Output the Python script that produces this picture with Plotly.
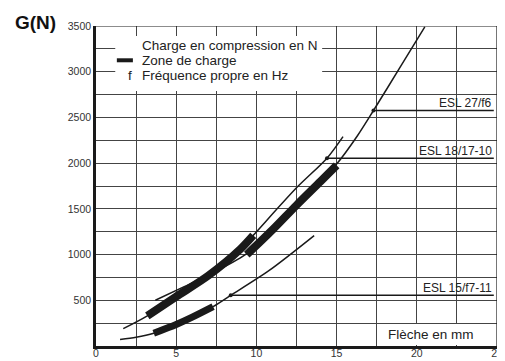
import plotly.graph_objects as go

# ---- data ----
esl15_x = [1.5, 2.5, 3.6, 5.0, 6.0, 7.3, 8.4, 10.8, 13.6]
esl15_y = [70, 95, 140, 235, 315, 430, 554, 826, 1207]
esl15_zone_x = [3.6, 5.0, 6.0, 7.3]
esl15_zone_y = [140, 235, 315, 430]
esl15_dot = (8.4, 554)

esl18_x = [1.7, 3.2, 5.0, 7.0, 9.0, 9.8, 12.5, 14.4, 15.4]
esl18_y = [190, 330, 540, 770, 1060, 1210, 1730, 2054, 2290]
esl18_zone_x = [3.2, 5.0, 7.0, 9.0, 9.8]
esl18_zone_y = [330, 540, 770, 1060, 1210]
esl18_dot = (14.4, 2054)

esl27_x = [3.7, 5.5, 7.5, 9.4, 11.0, 12.5, 14.0, 15.0, 16.3, 17.3, 19.0, 20.5]
esl27_y = [500, 650, 820, 1010, 1280, 1550, 1810, 1990, 2300, 2576, 3060, 3490]
esl27_zone_x = [9.4, 11.0, 12.5, 14.0, 15.0]
esl27_zone_y = [1000, 1270, 1540, 1800, 1975]
esl27_dot = (17.3, 2576)

labels = ["ESL 15/f7-11", "ESL 18/17-10", "ESL 27/f6"]
label_end_x = 24.8

x_ticks = [0, 5, 10, 15, 20, 25]
y_ticks = [500, 1000, 1500, 2000, 2500, 3000, 3500]

legend_lines = ["Charge en compression en N", "Zone de charge", "Fréquence propre en Hz"]
x_title = "Flèche en mm"
y_title = "G(N)"

INK = "#1a1a1a"
fig = go.Figure()

curves = [
    (esl15_x, esl15_y, esl15_zone_x, esl15_zone_y, esl15_dot, 7),
    (esl18_x, esl18_y, esl18_zone_x, esl18_zone_y, esl18_dot, 8),
    (esl27_x, esl27_y, esl27_zone_x, esl27_zone_y, esl27_dot, 8),
]
for (cx, cy, zx, zy, dot, zw), lab in zip(curves, labels):
    fig.add_trace(go.Scatter(x=cx, y=cy, mode="lines",
                             line=dict(color=INK, width=1.5, shape="spline", smoothing=0.8),
                             showlegend=False, hoverinfo="skip"))
    fig.add_trace(go.Scatter(x=zx, y=zy, mode="lines",
                             line=dict(color=INK, width=zw, shape="spline", smoothing=0.8),
                             showlegend=False, hoverinfo="skip"))
    fig.add_trace(go.Scatter(x=[dot[0], label_end_x], y=[dot[1], dot[1]], mode="lines",
                             line=dict(color=INK, width=1.5),
                             showlegend=False, hoverinfo="skip"))
    fig.add_trace(go.Scatter(x=[dot[0]], y=[dot[1]], mode="markers",
                             marker=dict(color=INK, size=4),
                             showlegend=False, hoverinfo="skip"))
    fig.add_annotation(x=label_end_x, y=dot[1], text=lab, showarrow=False,
                       xanchor="right", yanchor="bottom", yshift=-2,
                       font=dict(family="Liberation Sans Narrow, Liberation Sans, Arial", size=12, color="#222"))

# white boxes (legend and axis caption)
fig.add_shape(type="rect", x0=1.2, x1=14.1, y0=2790, y1=3390, layer="between",
              fillcolor="white", line=dict(width=0))
fig.add_shape(type="rect", x0=17.9, x1=24.9, y0=10, y1=240, layer="between",
              fillcolor="white", line=dict(width=0))
# top and right frame
fig.add_shape(type="line", x0=0, x1=25, y0=3500, y1=3500, line=dict(color=INK, width=1.2))
fig.add_shape(type="line", x0=25, x1=25, y0=0, y1=3500, line=dict(color=INK, width=1.2))

# legend content
leg_font = dict(family="Liberation Sans, Arial", size=13.5, color="#222")
leg_y = [3285, 3125, 2960]
for t, yy in zip(legend_lines, leg_y):
    fig.add_annotation(x=2.74, y=yy, text=t, showarrow=False, xanchor="left", yanchor="middle",
                       font=leg_font)
fig.add_shape(type="line", x0=1.3, x1=2.3, y0=3125, y1=3125, line=dict(color=INK, width=4))
fig.add_annotation(x=2.1, y=2960, text="f", showarrow=False, xanchor="center", yanchor="middle",
                   font=leg_font)

fig.add_annotation(x=18.1, y=130, text=x_title, showarrow=False, xanchor="left", yanchor="middle",
                   font=dict(family="Liberation Sans, Arial", size=13.5, color="#222"))
fig.add_annotation(xref="paper", yref="paper", x=-0.207, y=1.0125, text="<b>" + y_title + "</b>",
                   showarrow=False, xanchor="left", yanchor="middle",
                   font=dict(family="Liberation Sans Narrow, Liberation Sans, Arial", size=19, color="#111"))

tick_font = dict(family="Liberation Sans Narrow, Liberation Sans, Arial", size=10.5, color="#333")
fig.update_xaxes(range=[0, 25], tickvals=x_ticks, ticktext=[str(v) for v in x_ticks],
                 showgrid=True, gridcolor="#444", gridwidth=1,
                 minor=dict(dtick=2.5, tick0=0, showgrid=True, gridcolor="#444", gridwidth=1),
                 showline=True, linecolor=INK, linewidth=2.5, ticks="", zeroline=False,
                 ticklabelstandoff=-4, ticklabeloverflow="allow",
                 tickfont=tick_font, fixedrange=True, automargin=False)
fig.update_yaxes(range=[0, 3500], tickvals=y_ticks, ticktext=[str(v) for v in y_ticks],
                 showgrid=True, gridcolor="#444", gridwidth=1,
                 minor=dict(dtick=250, tick0=0, showgrid=True, gridcolor="#444", gridwidth=1),
                 showline=True, linecolor=INK, linewidth=2.5, ticks="", zeroline=False,
                 ticklabeloverflow="allow",
                 tickfont=tick_font, fixedrange=True, automargin=False)

# page body has an 8px default margin: figure is 497x353, placed at (8, 8)
fig.update_layout(width=497, height=353, margin=dict(l=88, r=8, t=18, b=15),
                  paper_bgcolor="white", plot_bgcolor="white", showlegend=False)

fig.write_html("out.html")
